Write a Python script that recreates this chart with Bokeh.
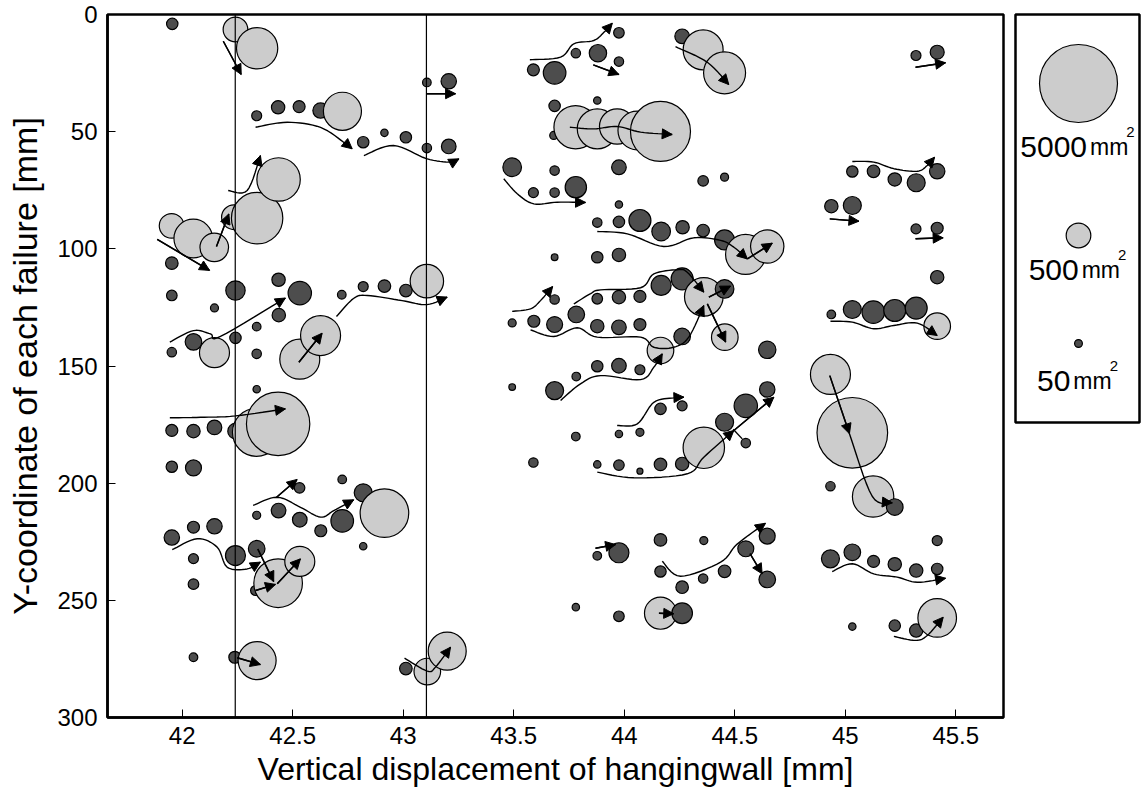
import math
from bokeh.plotting import figure
from bokeh.models import Range1d, FixedTicker, Span, Arrow, NormalHead, ColumnDataSource
from bokeh.layouts import row
from bokeh.embed import file_html
from bokeh.resources import INLINE
from bokeh.core.properties import value

# ---------------- data ----------------
# failures: vertical displacement [mm], y-coordinate [mm], area [mm2], kind (L = light, D = dark)
fail_x = [
    41.955, 42.241, 42.339, 42.337, 42.434, 42.529, 42.626, 42.725, 42.819, 42.915, 43.012, 43.107, 43.206,
    43.107, 43.206, 42.436, 42.339, 42.234, 41.952, 42.050, 42.145, 41.953, 42.436, 42.532, 42.241, 41.953,
    42.722, 42.819, 42.915, 43.012, 43.107,
    42.146, 42.437, 42.337, 42.241, 42.051, 42.146, 41.953, 42.337, 42.532, 42.626, 42.337, 42.434, 42.336,
    42.241, 42.146, 42.051, 41.953, 41.953, 42.051, 42.531, 42.724, 42.819, 42.915, 42.436, 42.337, 42.532,
    42.627, 42.724, 42.819, 41.953, 42.051, 42.146, 42.051, 42.241, 42.337, 42.434, 42.532, 42.051, 42.332,
    42.051, 42.238, 42.339, 43.012, 43.109, 43.199,
    43.976, 43.781, 43.881, 43.976, 43.589, 43.685, 44.262, 44.357, 44.454, 43.685, 43.878, 43.681, 43.780,
    43.878, 43.968, 44.059, 44.164, 43.493, 43.685, 43.976, 43.589, 43.685, 43.781, 44.357, 44.454, 43.976,
    43.878, 43.976, 44.071, 44.167, 44.264, 44.357, 44.454, 44.549, 44.647, 43.685, 43.878, 43.976, 44.167,
    44.262, 44.360, 44.454,
    43.685, 43.878, 43.976, 44.071, 44.455, 44.647, 43.493, 43.591, 43.685, 43.783, 43.878, 43.976, 44.071,
    44.164, 44.262, 43.493, 43.685, 43.783, 43.878, 43.976, 44.071, 43.781, 43.589, 43.976, 44.071, 44.164,
    44.262, 43.878, 43.976, 44.071, 44.164, 44.262, 44.360, 44.454, 44.550, 44.647, 44.550, 44.164, 44.360,
    44.647, 44.550, 44.454, 44.357, 44.262, 44.164, 44.647, 43.878, 43.976, 43.781, 43.976, 44.164, 44.262,
    45.416, 45.320, 45.032, 45.128, 45.224, 45.321, 45.416, 44.937, 45.032, 45.320, 45.416, 45.416, 44.937,
    45.032, 45.127, 45.224, 45.321, 45.416,
    44.933, 45.032, 45.126, 45.224, 44.933, 45.416, 44.933, 45.032, 45.128, 45.224, 45.321, 45.416, 45.032,
    45.224, 45.321, 45.416,
]
fail_y = [
    4.0, 6.4, 14.4, 43.2, 39.6, 39.3, 41.0, 41.3, 54.5, 50.5, 52.4, 57.0, 56.3,
    29.0, 28.5, 70.4, 86.9, 86.5, 90.2, 95.6, 99.4, 106.1, 113.2, 118.9, 117.8, 119.9,
    119.6, 116.1, 115.9, 117.8, 113.8,
    125.2, 128.3, 133.2, 138.0, 139.7, 144.3, 144.1, 144.8, 147.1, 137.0, 159.9, 174.7, 178.3,
    177.8, 176.2, 177.8, 177.5, 193.0, 193.5, 202.0, 198.4, 204.1, 212.8, 211.7, 213.7, 215.6,
    220.3, 216.1, 226.9, 223.2, 218.8, 218.4, 232.2, 230.9, 228.0, 242.7, 233.4, 243.1, 245.8,
    274.3, 274.3, 275.7, 279.1, 280.4, 271.7,
    7.8, 16.5, 16.5, 20.1, 23.6, 24.9, 9.3, 15.1, 24.9, 39.0, 36.7, 51.6, 48.1,
    48.8, 47.8, 49.5, 49.9, 65.2, 66.6, 65.2, 76.0, 76.0, 73.7, 71.0, 69.4, 81.1,
    88.8, 88.5, 87.9, 92.6, 90.8, 92.2, 96.2, 102.4, 99.0, 103.6, 103.6, 102.6, 115.6,
    112.8, 120.5, 117.1,
    121.6, 121.3, 120.6, 120.3, 137.7, 143.1, 131.6, 130.9, 132.3, 128.0, 133.0, 133.5, 132.3,
    143.4, 137.4, 159.0, 160.5, 154.5, 150.1, 149.9, 151.6, 180.1, 191.2, 179.0, 178.3, 168.3,
    167.0, 192.0, 192.3, 194.9, 192.0, 191.8, 184.9, 174.0, 167.0, 160.0, 182.9, 224.2, 224.5,
    222.6, 228.0, 237.6, 240.7, 244.4, 237.7, 241.1, 231.0, 229.7, 252.9, 256.8, 255.5, 255.5,
    16.1, 17.5, 67.0, 66.9, 70.4, 71.8, 66.9, 81.8, 81.5, 91.5, 91.2, 112.1, 128.0,
    125.9, 127.0, 126.3, 125.3, 133.0,
    153.6, 178.5, 205.7, 210.2, 201.3, 224.5, 232.3, 229.5, 233.4, 234.6, 237.3, 236.6, 261.2,
    260.8, 262.9, 257.5,
]
fail_area = [
    107, 500, 1400, 82, 147, 118, 195, 1190, 107, 45, 107, 73, 176,
    61, 195, 1550, 2170, 500, 500, 1225, 672, 130, 147, 450, 309, 92,
    61, 82, 130, 130, 917,
    53, 147, 61, 107, 227, 740, 73, 73, 1315, 1315, 45, 3300, 1893,
    195, 176, 147, 118, 107, 210, 92, 61, 266, 1942, 176, 53, 176,
    118, 420, 45, 195, 118, 195, 82, 329, 227, 1942, 740, 92, 82,
    61, 118, 1187, 130, 582, 1187,
    92, 73, 248, 73, 118, 420, 176, 1315, 1450, 107, 45, 53, 1547,
    1315, 1030, 1225, 2958, 286, 73, 176, 82, 73, 375, 92, 53, 45,
    73, 107, 398, 286, 147, 130, 329, 1315, 917, 37, 107, 147, 329,
    398, 1225, 286,
    73, 92, 147, 118, 582, 248, 53, 118, 210, 227, 147, 176, 118,
    582, 227, 37, 266, 61, 107, 176, 82, 61, 73, 45, 53, 107,
    82, 45, 92, 30, 130, 147, 1408, 266, 450, 195, 73, 130, 53,
    210, 210, 130, 73, 130, 107, 227, 61, 329, 45, 92, 842, 351,
    161, 82, 107, 130, 147, 266, 195, 147, 266, 82, 118, 147, 61,
    266, 420, 398, 398, 582,
    1315, 4100, 1408, 227, 73, 82, 266, 227, 118, 147, 147, 107, 45,
    107, 147, 1225,
]
fail_kind = [
    "D", "L", "L", "D", "D", "D", "D", "L", "D", "D", "D", "D", "D",
    "D", "D", "L", "L", "L", "L", "L", "L", "D", "D", "D", "D", "D",
    "D", "D", "D", "D", "L",
    "D", "D", "D", "D", "D", "L", "D", "D", "L", "L", "D", "L", "L",
    "D", "D", "D", "D", "D", "D", "D", "D", "D", "L", "D", "D", "D",
    "D", "D", "D", "D", "D", "D", "D", "D", "D", "L", "L", "D", "D",
    "D", "D", "L", "D", "L", "L",
    "D", "D", "D", "D", "D", "D", "D", "L", "L", "D", "D", "D", "L",
    "L", "L", "L", "L", "D", "D", "D", "D", "D", "D", "D", "D", "D",
    "D", "D", "D", "D", "D", "D", "D", "L", "L", "D", "D", "D", "D",
    "D", "L", "D",
    "D", "D", "D", "D", "L", "D", "D", "D", "D", "D", "D", "D", "D",
    "L", "D", "D", "D", "D", "D", "D", "D", "D", "D", "D", "D", "D",
    "D", "D", "D", "D", "D", "D", "L", "D", "D", "D", "D", "D", "D",
    "D", "D", "D", "D", "D", "D", "D", "D", "D", "D", "D", "L", "D",
    "D", "D", "D", "D", "D", "D", "D", "D", "D", "D", "D", "D", "D",
    "D", "D", "D", "D", "L",
    "L", "L", "L", "D", "D", "D", "D", "D", "D", "D", "D", "D", "D",
    "D", "D", "L",
]

# migration paths (hand-read points), last point = arrow tip
path_x = [
    [42.186, 42.267],
    [42.332, 42.476, 42.626, 42.739, 42.769],
    [42.822, 42.956, 43.105, 43.214, 43.252],
    [43.105, 43.237],
    [42.208, 42.294, 42.354],
    [42.155, 42.211],
    [41.887, 42.124],
    [41.944, 42.051, 42.128, 42.173, 42.467],
    [42.528, 42.633],
    [42.698, 42.775, 42.838, 42.995, 43.107, 43.199],
    [41.944, 42.083, 42.241, 42.467],
    [42.427, 42.520],
    [42.321, 42.430, 42.535, 42.626, 42.686, 42.776],
    [41.955, 42.068, 42.158, 42.204, 42.294, 42.354],
    [42.342, 42.414],
    [42.332, 42.422],
    [42.430, 42.535],
    [42.249, 42.354],
    [43.006, 43.109, 43.146, 43.214],
    [43.573, 43.712, 43.772, 43.862, 43.908, 43.946],
    [43.860, 43.976],
    [44.232, 44.376, 44.473],
    [43.754, 43.862, 43.968, 44.074, 44.217],
    [43.455, 43.516, 43.591, 43.697, 43.825],
    [43.878, 44.014, 44.179, 44.315, 44.436, 44.496, 44.557],
    [44.557, 44.670],
    [43.493, 43.576, 43.621, 43.676],
    [43.772, 43.848, 43.893, 44.074, 44.134, 44.240, 44.285, 44.360],
    [44.383, 44.481],
    [44.376, 44.459],
    [43.576, 43.681, 43.787, 43.878, 44.074, 44.134, 44.224, 44.292, 44.360],
    [43.712, 43.802, 43.893, 44.074, 44.134, 44.172],
    [43.968, 44.059, 44.134, 44.224, 44.270],
    [44.493, 44.534],
    [43.878, 44.043, 44.285, 44.360, 44.496],
    [44.496, 44.677],
    [44.172, 44.255, 44.436, 44.511, 44.639],
    [44.569, 44.624],
    [43.870, 43.961],
    [44.157, 44.224],
    [45.318, 45.454],
    [45.032, 45.129, 45.220, 45.326, 45.371, 45.404],
    [44.930, 45.062],
    [45.318, 45.443],
    [44.933, 45.032, 45.129, 45.220, 45.326, 45.416],
    [44.930, 45.019],
    [45.019, 45.122, 45.213],
    [44.941, 45.032, 45.129, 45.235, 45.326, 45.454],
    [45.220, 45.318, 45.371, 45.443],
]
path_y = [
    [11.4, 25.6],
    [48.1, 46.0, 48.2, 55.1, 57.3],
    [60.2, 55.9, 61.5, 63.0, 61.6],
    [33.8, 33.8],
    [75.1, 75.1, 60.2],
    [99.0, 85.1],
    [96.0, 109.2],
    [139.8, 134.9, 136.3, 137.4, 121.0],
    [148.4, 136.0],
    [128.9, 121.2, 119.9, 122.1, 123.8, 120.6],
    [172.1, 171.9, 171.3, 168.3],
    [206.0, 198.4],
    [209.5, 206.0, 210.3, 214.5, 211.7, 207.1],
    [228.4, 223.7, 227.3, 235.9, 236.6, 233.7],
    [228.1, 242.0],
    [245.8, 243.2],
    [242.9, 232.3],
    [274.5, 277.4],
    [274.7, 280.2, 278.5, 270.0],
    [19.3, 18.2, 12.5, 11.1, 7.6, 3.7],
    [21.5, 25.6],
    [13.7, 20.4, 29.9],
    [48.1, 48.8, 47.8, 50.2, 51.2],
    [70.1, 76.5, 80.8, 80.1, 80.2],
    [92.6, 93.6, 99.0, 95.3, 96.4, 99.3, 104.3],
    [104.3, 97.6],
    [126.7, 125.6, 122.1, 116.1],
    [123.5, 119.1, 117.5, 116.6, 110.7, 108.9, 110.0, 118.5],
    [120.6, 115.9],
    [123.5, 139.8],
    [134.6, 137.4, 133.7, 137.7, 137.7, 142.0, 142.0, 137.7, 124.2],
    [164.7, 157.6, 154.1, 155.8, 150.5, 144.8],
    [175.4, 174.7, 165.5, 163.6, 163.3],
    [177.0, 181.1],
    [195.3, 197.7, 196.0, 188.9, 177.5],
    [177.5, 163.3],
    [233.3, 239.7, 233.7, 226.0, 217.1],
    [230.1, 238.7],
    [227.8, 226.2],
    [255.5, 255.7],
    [22.5, 20.6],
    [62.7, 63.0, 65.8, 66.9, 64.4, 60.9],
    [87.2, 88.2],
    [95.7, 95.3],
    [130.9, 131.3, 134.1, 132.7, 131.7, 137.0],
    [154.1, 178.9],
    [178.9, 205.6, 208.4],
    [237.7, 234.4, 238.7, 240.1, 242.3, 240.6],
    [265.4, 267.1, 265.0, 257.2],
]
path_head = [1] * len(path_x)
path_head[33] = 0

vline_x = [42.24, 43.105]

x_ticks = [42, 42.5, 43, 43.5, 44, 44.5, 45, 45.5]
x_tick_labels = ["42", "42.5", "43", "43.5", "44", "44.5", "45", "45.5"]
y_ticks = [0, 50, 100, 150, 200, 250, 300]

legend_area = [5000, 500, 50]
legend_kind = ["L", "L", "D"]
legend_num = ["5000", "500", "50"]

# ---------------- styling ----------------
FONT = "Liberation Sans"
LIGHT = "#cccccc"
DARK = "#4d4d4d"
R_REF = 39.0          # radius in px for 5000 mm2
A_REF = 5000.0

TOP, BOTTOM = 14, 80
FRAME_H = 703


def diam(a):
    return 2 * R_REF * math.sqrt(a / A_REF)


def smooth(xs, ys, n=8):
    if len(xs) < 3:
        return list(xs), list(ys)
    px = [xs[0]] + list(xs) + [xs[-1]]
    py = [ys[0]] + list(ys) + [ys[-1]]
    ox, oy = [], []
    for i in range(1, len(px) - 2):
        for k in range(n):
            t = k / n
            t2, t3 = t * t, t * t * t

            def cr(p0, p1, p2, p3):
                return 0.5 * (2 * p1 + (-p0 + p2) * t + (2 * p0 - 5 * p1 + 4 * p2 - p3) * t2
                              + (-p0 + 3 * p1 - 3 * p2 + p3) * t3)
            ox.append(cr(px[i - 1], px[i], px[i + 1], px[i + 2]))
            oy.append(cr(py[i - 1], py[i], py[i + 1], py[i + 2]))
    ox.append(xs[-1])
    oy.append(ys[-1])
    return ox, oy


p = figure(width=1011, height=TOP + FRAME_H + BOTTOM,
           x_range=Range1d(41.662, 45.716), y_range=Range1d(300, 0),
           output_backend="svg", toolbar_location=None,
           min_border_left=107, min_border_right=8, min_border_top=TOP, min_border_bottom=BOTTOM)
p.grid.visible = False
p.outline_line_color = "black"
p.outline_line_width = 2.5
p.background_fill_color = "white"

p.xaxis.ticker = FixedTicker(ticks=x_ticks)
p.xaxis.major_label_overrides = {t: s for t, s in zip(x_ticks, x_tick_labels)}
p.yaxis.ticker = FixedTicker(ticks=y_ticks)
for ax in (p.xaxis[0], p.yaxis[0]):
    ax.axis_line_width = 2.5
    ax.major_tick_in = 8
    ax.major_tick_out = 0
    ax.minor_tick_line_color = None
    ax.major_tick_line_width = 1
    ax.major_label_text_font = FONT
    ax.major_label_text_font_size = "24px"
    ax.major_label_text_color = "black"
    ax.axis_label_text_font = FONT
    ax.axis_label_text_font_size = "32px"
    ax.axis_label_text_font_style = "normal"
    ax.axis_label_text_color = "black"
p.yaxis.axis_label_text_font_size = "34px"
p.xaxis.axis_label = "Vertical displacement of hangingwall [mm]"
p.yaxis.axis_label = "Y-coordinate of each failure [mm]"
p.xaxis.major_label_standoff = 9
p.xaxis.axis_label_standoff = 4
p.yaxis.major_label_standoff = 10
p.yaxis.axis_label_standoff = 10

# circles, drawn in chronological (x) order
order = sorted(range(len(fail_x)), key=lambda i: fail_x[i])
src = ColumnDataSource(dict(
    x=[fail_x[i] for i in order],
    y=[fail_y[i] for i in order],
    size=[diam(fail_area[i]) for i in order],
    color=[LIGHT if fail_kind[i] == "L" else DARK for i in order],
))
p.scatter(x="x", y="y", size="size", source=src, fill_color="color",
          line_color="black", line_width=1.2)

# paths and arrow heads
mx, my, hx0, hy0, hx1, hy1 = [], [], [], [], [], []
for xs, ys, h in zip(path_x, path_y, path_head):
    sx, sy = smooth(xs, ys)
    mx.append(sx)
    my.append(sy)
    if h:
        hx0.append(sx[-2]); hy0.append(sy[-2]); hx1.append(sx[-1]); hy1.append(sy[-1])
p.multi_line(mx, my, line_color="black", line_width=1.4)
head_src = ColumnDataSource(dict(x0=hx0, y0=hy0, x1=hx1, y1=hy1))
p.add_layout(Arrow(end=NormalHead(size=10, fill_color="black", line_color="black", line_width=1),
                   x_start="x0", y_start="y0", x_end="x1", y_end="y1",
                   source=head_src, line_color="black", line_width=1.4))

for vx in vline_x:
    p.add_layout(Span(location=vx, dimension="height", line_color="black", line_width=1.2))

# ---------------- legend panel ----------------
LEG_H = 408
lp = figure(width=132, height=TOP + LEG_H + BOTTOM, x_range=Range1d(0, 124), y_range=Range1d(LEG_H, 0),
            output_backend="svg", toolbar_location=None,
            x_axis_location=None, y_axis_location=None,
            min_border_left=4, min_border_right=4, min_border_top=TOP, min_border_bottom=BOTTOM)
lp.grid.visible = False
lp.outline_line_color = "black"
lp.outline_line_width = 2.5

leg_cx = 63
leg_cy = [69, 221, 329]
leg_base = [132, 255, 366]
NUM_FS, MM_FS, SUP_FS = 30, 23, 15
lp.scatter(x=[leg_cx] * 3, y=leg_cy, size=[diam(a) for a in legend_area],
           fill_color=[LIGHT if k == "L" else DARK for k in legend_kind],
           line_color="black", line_width=1.2)
nx, mmx, supx = [], [], []
for s in legend_num:
    wn = len(s) * 0.556 * NUM_FS
    wm = 1.666 * MM_FS
    ws = 0.556 * SUP_FS
    total = wn + 3 + wm + ws
    x0 = leg_cx - total / 2
    nx.append(x0)
    mmx.append(x0 + wn + 3)
    supx.append(x0 + wn + 3 + wm - 2)
lp.text(x=nx, y=leg_base, text=legend_num, text_font=value(FONT), text_font_size=f"{NUM_FS}px",
        text_baseline="alphabetic", text_align="left", text_color="black")
lp.text(x=mmx, y=leg_base, text=["mm"] * 3, text_font=value(FONT), text_font_size=f"{MM_FS}px",
        text_baseline="alphabetic", text_align="left", text_color="black")
lp.text(x=supx, y=[b - 15 for b in leg_base], text=["2"] * 3, text_font=value(FONT),
        text_font_size=f"{SUP_FS}px", text_baseline="alphabetic", text_align="left", text_color="black")

layout = row(p, lp)
open("out.html", "w").write(file_html(layout, INLINE))
